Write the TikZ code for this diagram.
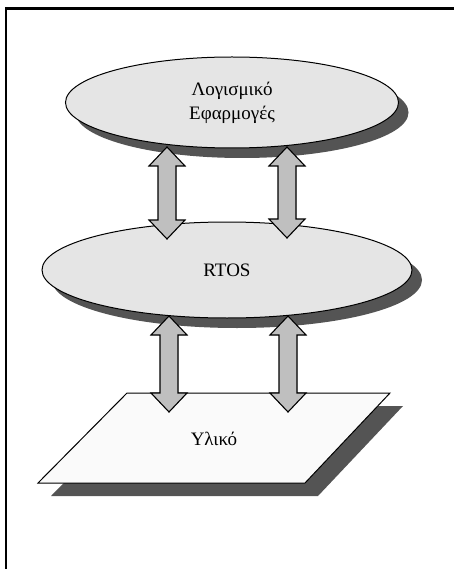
\documentclass[tikz,border=0pt]{standalone}
\usepackage{fontspec}
\setmainfont{Liberation Serif}
\usetikzlibrary{shapes.geometric,shadows,calc}

\definecolor{layerfill}{gray}{0.9}
\definecolor{hwfill}{gray}{0.98}
\definecolor{shadegray}{gray}{0.33}
\definecolor{arrowfill}{gray}{0.75}

\tikzset{
	layer/.style={ellipse, draw, line width=1pt, fill=layerfill, inner sep=0pt,
		align=center, font=\fontsize{19}{24}\selectfont,
		drop shadow={shadow xshift=10pt, shadow yshift=-10pt, fill=shadegray, opacity=1}},
	hwplate/.style={draw, line width=1pt, fill=hwfill, line join=miter},
	hwshadow/.style={fill=shadegray},
	label text/.style={font=\fontsize{19}{24}\selectfont},
	link/.style={draw, line width=1.1pt, fill=arrowfill, line join=miter},
	linkshadow/.style={fill=shadegray, xshift=4pt, yshift=-4pt}
}

\newcommand{\layerlink}[3][link]{%
	\path[#1] let \p1=(#2), \p2=(#3) in
		(\x1,\y1) -- (\x1+18pt,\y1-19pt) -- (\x1+9pt,\y1-19pt) -- (\x1+9pt,\y2+19pt)
		-- (\x1+18pt,\y2+19pt) -- (\x1,\y2) -- (\x1-18pt,\y2+19pt) -- (\x1-9pt,\y2+19pt)
		-- (\x1-9pt,\y1-19pt) -- (\x1-18pt,\y1-19pt) -- cycle;}

\begin{document}
\begin{tikzpicture}[x=1pt, y=-1pt]
	\useasboundingbox (0,0) rectangle (454,569);
	\draw [line width=2.5pt] (6,600) -- (6,8.5) -- (480,8.5);

	\node [layer, minimum width=333pt, minimum height=91pt] (App) at (232,102.5) {Λογισμικό\\Εφαρμογές};
	\node [layer, minimum width=370pt, minimum height=96pt] (RTOS) at (227,270) {RTOS};

	\coordinate (HW_a) at (127,393);
	\coordinate (HW_b) at (390,393);
	\coordinate (HW_c) at (305,483);
	\coordinate (HW_d) at (38,483);
	\path [hwshadow] ([xshift=13pt, yshift=-13pt]HW_a) -- ([xshift=13pt, yshift=-13pt]HW_b)
		-- ([xshift=13pt, yshift=-13pt]HW_c) -- ([xshift=13pt, yshift=-13pt]HW_d) -- cycle;
	\path [hwplate] (HW_a) -- (HW_b) -- (HW_c) -- (HW_d) -- cycle;
	\node [label text] (HW) at (214,439) {Υλικό};

	\coordinate (App_1) at (167,147);
	\coordinate (App_2) at (287,147);
	\coordinate (RTOS_1) at (167,239);
	\coordinate (RTOS_2) at (287,238);
	\coordinate (RTOS_3) at (169,316);
	\coordinate (RTOS_4) at (288,316);
	\coordinate (HW_1) at (169,412);
	\coordinate (HW_2) at (288,412);

	\layerlink[linkshadow]{App_1}{RTOS_1}
	\layerlink{App_1}{RTOS_1}
	\layerlink[linkshadow]{App_2}{RTOS_2}
	\layerlink{App_2}{RTOS_2}
	\layerlink[linkshadow]{RTOS_3}{HW_1}
	\layerlink{RTOS_3}{HW_1}
	\layerlink[linkshadow]{RTOS_4}{HW_2}
	\layerlink{RTOS_4}{HW_2}
\end{tikzpicture}
\end{document}
